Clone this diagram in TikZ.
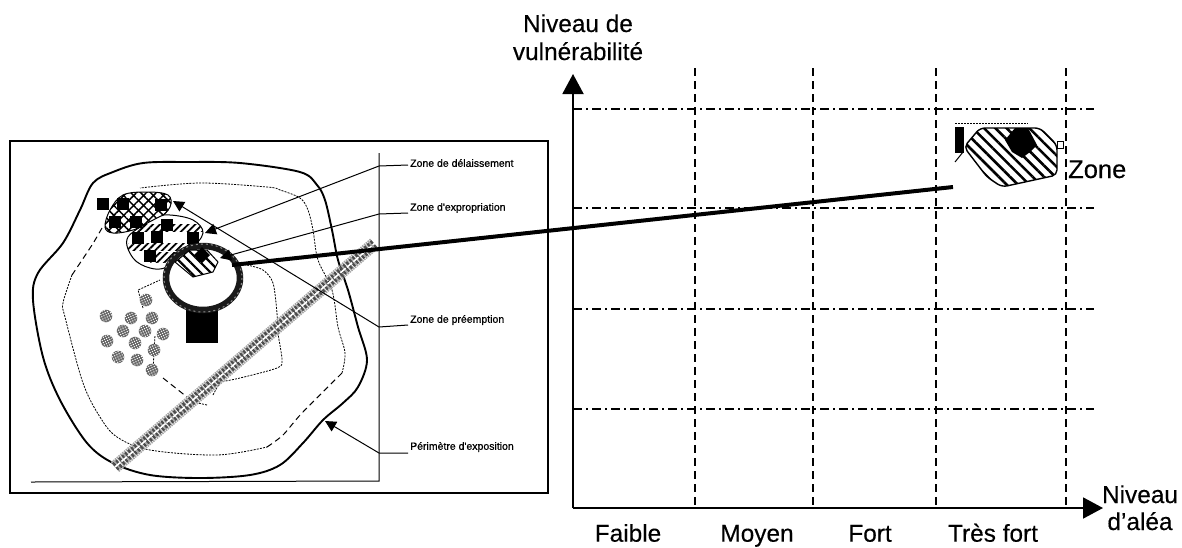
\documentclass[tikz,border=0pt]{standalone}
\usepackage{fontspec}
\setmainfont{Liberation Sans}[FakeBold=0.25]
\newfontfamily\heavy{Liberation Sans}[FakeBold=0.9]
\usetikzlibrary{patterns.meta,arrows.meta}
\tikzset{
  lab/.style={font=\fontsize{24.4}{26}\selectfont,inner sep=0pt,anchor=base},
  small/.style={font=\heavy\fontsize{10.5}{12}\selectfont,inner sep=0pt,anchor=west},
  gridv/.style={line width=1.7pt,dash pattern=on 8pt off 5pt},
  gridh/.style={line width=1.5pt,dash pattern=on 9pt off 4pt on 2pt off 4pt},
  leader/.style={line width=1pt,-{Triangle[length=11pt,width=11pt]}},
  mapdash/.style={line width=.8pt,dash pattern=on 2pt off 1.2pt},
  mapdash2/.style={line width=1pt,dash pattern=on 6pt off 4pt},
}
\newcommand{\sq}[2]{\fill[black] (#1-6,#2-6) rectangle (#1+6,#2+6);}
\newcommand{\spot}[2]{\fill[black!60] (#1,#2) circle (6.3);
  \fill[pattern={Dots[radius=.75pt,distance=2.4pt,angle=25]},pattern color=white] (#1,#2) circle (6.3);}
\begin{document}
\begin{tikzpicture}[x=1pt,y=-1pt]
\useasboundingbox (0,0) rectangle (1182,547);
% ---- map frame
\draw[line width=1.7pt] (10,141) -- (548,141) -- (548,493) -- (10,493) -- cycle;
\draw[line width=1pt] (379,153) -- (379,481) -- (31,482);
% perimeter
\draw[line width=1.9pt] plot[smooth cycle,tension=.55] coordinates {
 (33,300) (38,273) (63,243) (80,210) (93,183) (113,172) (143,163) (187,162) (240,163)
 (300,172) (317,185) (325,200) (332,230) (338,260) (348,290) (358,327) (367,360) (358,387)
 (343,403) (323,420) (303,443) (280,465) (250,475) (200,478) (150,475) (113,463) (87,443)
 (60,400) (43,357)};
% inner dashed curves
\draw[mapdash] plot[smooth,tension=.55] coordinates {
 (72,275) (63,303) (65,317) (83,383) (100,417) (117,437) (150,450) (217,455) (267,447)};
\draw[mapdash2] plot[smooth,tension=.5] coordinates {(102,228) (92,245) (72,275)};
\draw[mapdash2] plot[smooth,tension=.5] coordinates {(267,447) (283,435) (302,413) (342,373)};
\draw[mapdash] plot[smooth,tension=.55] coordinates {
 (342,373) (345,353) (338,327) (332,290) (318,260) (313,230) (308,210) (300,198) (280,190)
 (267,187) (200,183) (140,188)};
\draw[mapdash] plot[smooth,tension=.5] coordinates {
 (247,265) (263,270) (273,283) (277,313) (278,333) (282,360) (277,368) (240,378) (220,382)};
\draw[mapdash] (220,382) -- (213,395);
\draw[mapdash] (207,405) -- (198,403);
\draw[mapdash2] (163,378) -- (187,397);
\draw[mapdash] (153,370) -- (155,335);
\draw[mapdash] (143,308) -- (138,290) -- (160,280);
% road
\draw[black!35,line width=13pt,dash pattern=on 1.5pt off .9pt] (115,467) -- (375,243);
\draw[black!70,line width=9pt,dash pattern=on 2.2pt off 1.8pt] (115,467) -- (375,243);
\draw[white,line width=1.6pt,dash pattern=on 7pt off 1.5pt] (115,467) -- (375,243);
% dots
\spot{146}{300}\spot{106}{316}\spot{131}{318}\spot{152}{318}\spot{123}{331}\spot{145}{331}
\spot{163}{334}\spot{107}{341}\spot{135}{343}\spot{154}{350}\spot{118}{357}\spot{137}{360}\spot{152}{370}
% zones
\draw[line width=1pt,fill=white,postaction={pattern={Lines[angle=45,distance=7pt,line width=1.5pt]}},
  postaction={pattern={Lines[angle=-45,distance=7pt,line width=1.5pt]}}]
  plot[smooth cycle,tension=.6] coordinates {(105,227) (110,210) (123,195) (147,192) (168,195) (170,207) (157,220) (133,230) (113,233)};
\draw[line width=1pt,fill=white] plot[smooth cycle,tension=.6] coordinates
  {(128,237) (157,218) (170,215) (193,220) (203,233) (190,250) (167,267) (150,268) (133,258)};
\begin{scope}
\clip plot[smooth cycle,tension=.6] coordinates
  {(128,237) (157,218) (170,215) (193,220) (203,233) (190,250) (167,267) (150,268) (133,258)};
\fill[pattern={Lines[angle=45,distance=5pt,line width=1.8pt]}] (128,224) rectangle (205,231);
\fill[pattern={Lines[angle=45,distance=5pt,line width=1.8pt]}] (128,243) rectangle (205,250);
\fill[pattern={Lines[angle=45,distance=5pt,line width=1.8pt]}] (150,252) rectangle (205,262);
\end{scope}
\sq{103}{204}\sq{123}{204}\sq{161}{205}\sq{115}{222}\sq{136}{222}\sq{167}{225}
\sq{138}{238}\sq{157}{237}\sq{193}{238}\sq{150}{256}
% black block and ring
\fill[black] (186,308) rectangle (218,343);
\draw[white,line width=1pt,fill=white] (203,278) ellipse [x radius=36,y radius=31];
\draw[black!90,line width=6.5pt] (203,278) ellipse [x radius=37,y radius=32];
\draw[black!45,line width=1pt,dash pattern=on 2pt off 3pt] (203,278) ellipse [x radius=39,y radius=34];
% preemption zone
\draw[line width=1pt,fill=white,postaction={pattern={Lines[angle=-45,distance=7pt,line width=2.2pt]}}]
  (175,262) -- (190,250) -- (207,250) -- (218,262) -- (213,272) -- (193,277) -- cycle;
\fill[black] (202,247) -- (210,255) -- (202,263) -- (194,255) -- cycle;
% labels with leaders
\node[small] (lab1) at (410,163) {Zone de délaissement};
\node[small] (lab2) at (410,208) {Zone d'expropriation};
\node[small] (lab3) at (410,320) {Zone de préemption};
\node[small] (lab4) at (410,447) {Périmètre d'exposition};
\coordinate (k1) at (379,166); \coordinate (t1) at (205,233);
\coordinate (k2) at (379,214); \coordinate (t2) at (220,258);
\coordinate (k3) at (379,327); \coordinate (t3) at (173,201);
\coordinate (k4) at (379,453); \coordinate (t4) at (325,421);
\coordinate (j1) at (408,165); \coordinate (j2) at (408,213);
\coordinate (j3) at (408,325); \coordinate (j4) at (408,453);
\draw[leader] (j1) -- (k1) -- (t1);
\draw[leader] (j2) -- (k2) -- (t2);
\draw[leader] (j3) -- (k3) -- (t3);
\draw[leader] (j4) -- (k4) -- (t4);
% ---- chart
\foreach \x in {695,813,936,1066} \draw[gridv] (\x,68) -- (\x,507);
\foreach \y in {109,208,309,409} \draw[gridh] (573,\y) -- (1094,\y);
\coordinate (o) at (573,508); \coordinate (ytip) at (573,74); \coordinate (xtip) at (1103,508);
\draw[line width=1.9pt,-{Triangle[length=20pt,width=21pt]}] (o) -- (ytip);
\draw[line width=1.9pt,-{Triangle[length=20pt,width=21pt]}] (o) -- (xtip);
\node[lab] (ty1) at (578,32) {Niveau de};
\node[lab] (ty2) at (578,60) {vulnérabilité};
\node[lab] (tx) at (1140,503) {Niveau};
\node[lab] (tx2) at (1140,530) {d'aléa};
\node[lab] (f1) at (628,541.7) {Faible};
\node[lab] (f2) at (757,541.7) {Moyen};
\node[lab] (f3) at (870,541.7) {Fort};
\node[lab] (f4) at (993,541.7) {Très fort};
\node[lab,anchor=base west,font=\fontsize{25.5}{27}\selectfont] (zl) at (1068,178) {Zone};
% zoomed zone
\draw[line width=1pt,dash pattern=on 1.5pt off 1.5pt] (955,123.5) -- (1028,123.5);
\fill[black] (955,127) rectangle (964,153);
\draw[line width=1pt] (955,162) -- (963,152);
\draw[line width=1.4pt,rounded corners=5pt,fill=white,postaction={pattern={Lines[angle=-45,distance=8pt,line width=2.6pt]}}]
  (964,147) -- (980,128) -- (1040,128) -- (1057,145) -- (1057,175) -- (1002,187) -- (987,177) -- cycle;
\fill[black] (1005,140) -- (1015,128) -- (1028,128) -- (1037,145) -- (1030,152) -- (1022,158) -- (1012,152) -- cycle;
\draw[line width=1pt,fill=white] (1057,141) rectangle (1063,148);
% long connector
\coordinate (c1) at (232,265); \coordinate (c2) at (953,187);
\draw[line width=4pt] (c1) -- (c2);
\end{tikzpicture}
\end{document}
